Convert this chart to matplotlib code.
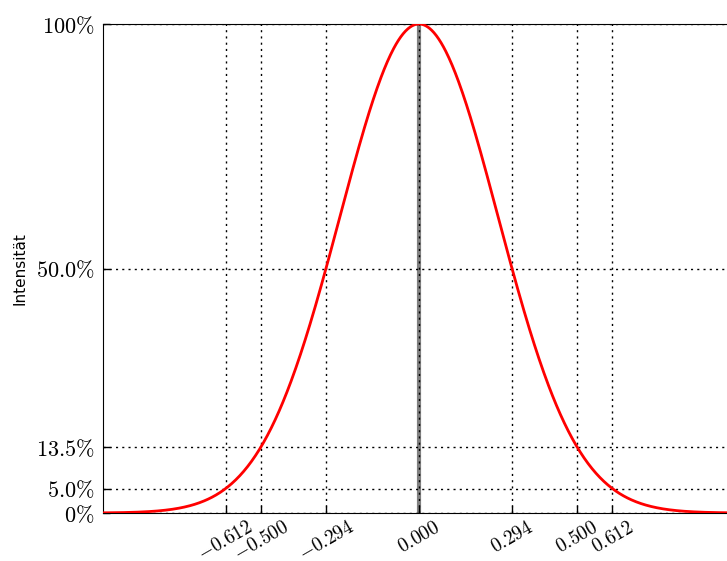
import numpy as np
import matplotlib
matplotlib.use("Agg")
import matplotlib.pyplot as plt

plt.rcParams['mathtext.fontset'] = 'cm'

# beam radius (1/e^2) and marked positions
w = 0.5
xticks = [-0.612, -0.5, -0.294, 0.0, 0.294, 0.5, 0.612]
yticks = [0.0, 0.05, 0.135, 0.5, 1.0]
ylabels = [r'$0\%$', r'$5.0\%$', r'$13.5\%$', r'$50.0\%$', r'$100\%$']

x = np.linspace(-1, 1, 801)
intensity = np.exp(-2 * x**2 / w**2)

fig = plt.figure(figsize=(7.27, 5.61), dpi=100)
ax = fig.add_axes([103/727, 48/561, 632/727, 489/561])

ax.axvline(0, color='gray', lw=3, zorder=1)
ax.plot(x, intensity, color='red', lw=2, zorder=3)

ax.set_xlim(-1, 1)
ax.set_ylim(0, 1)
ax.set_xticks(xticks)
ax.set_xticklabels([r'$%.3f$' % t for t in xticks], rotation=30, fontsize=14)
ax.set_yticks(yticks)
ax.set_yticklabels(ylabels, fontsize=16)
ax.tick_params(direction='in', length=5, width=1, pad=6)
ax.tick_params(axis='x', pad=3)
ax.grid(True, color='black', linestyle=(0, (1.5, 3)), linewidth=1, zorder=2)
ax.set_axisbelow(False)

ax.set_ylabel('Intensität', fontsize=11)
ax.yaxis.set_label_coords(-0.12, 0.5)

fig.savefig('out.png', dpi=100)
